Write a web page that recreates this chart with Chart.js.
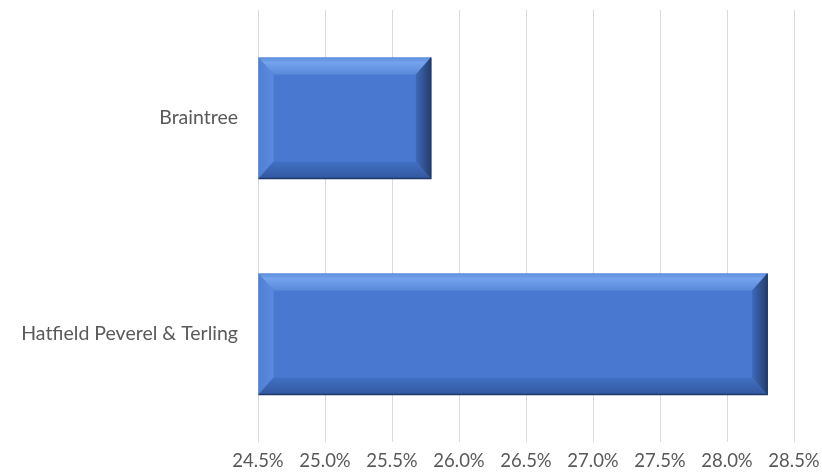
<!DOCTYPE html>
<html>
<head>
<meta charset="utf-8">
<script src="https://cdn.jsdelivr.net/npm/chart.js@4"></script>
<style>
  html, body { margin: 0; padding: 0; background: #fff; }
  #wrap { width: 822px; height: 473px; }
</style>
</head>
<body>
<div id="wrap"><canvas id="chart"></canvas></div>
<script>
// data
const categories = ["Braintree", "Hatfield Peverel & Terling"];
const shares = [25.79, 28.3];
const axisMin = 24.5;
const axisMax = 28.5;
const axisStep = 0.5;

// bevel look like the Excel shape effect
const bevelPlugin = {
  id: "bevel",
  afterDatasetsDraw(chart) {
    const ctx = chart.ctx;
    chart.getDatasetMeta(0).data.forEach(bar => {
      const l = Math.min(bar.base, bar.x), r = Math.max(bar.base, bar.x);
      const t = bar.y - bar.height / 2, b = bar.y + bar.height / 2;
      const bw = 15, bh = 17;
      ctx.save();
      ctx.fillStyle = "#4878cf";
      ctx.fillRect(l, t, r - l, b - t);
      // top
      let g = ctx.createLinearGradient(0, t, 0, t + bh);
      g.addColorStop(0, "#5e8fe0");
      g.addColorStop(0.3, "#74a2ec");
      g.addColorStop(1, "#5a89d9");
      ctx.fillStyle = g;
      ctx.beginPath();
      ctx.moveTo(l, t); ctx.lineTo(r, t); ctx.lineTo(r - bw, t + bh); ctx.lineTo(l + bw, t + bh);
      ctx.closePath(); ctx.fill();
      // left
      g = ctx.createLinearGradient(l, 0, l + bw, 0);
      g.addColorStop(0, "#4f80d4");
      g.addColorStop(1, "#5b8bdc");
      ctx.fillStyle = g;
      ctx.beginPath();
      ctx.moveTo(l, t); ctx.lineTo(l + bw, t + bh); ctx.lineTo(l + bw, b - bh); ctx.lineTo(l, b);
      ctx.closePath(); ctx.fill();
      // bottom
      g = ctx.createLinearGradient(0, b - bh, 0, b);
      g.addColorStop(0, "#4271c4");
      g.addColorStop(1, "#32589e");
      ctx.fillStyle = g;
      ctx.beginPath();
      ctx.moveTo(l, b); ctx.lineTo(l + bw, b - bh); ctx.lineTo(r - bw, b - bh); ctx.lineTo(r, b);
      ctx.closePath(); ctx.fill();
      // right
      g = ctx.createLinearGradient(r - bw, 0, r, 0);
      g.addColorStop(0, "#3d69b8");
      g.addColorStop(1, "#243f70");
      ctx.fillStyle = g;
      ctx.beginPath();
      ctx.moveTo(r, t); ctx.lineTo(r, b); ctx.lineTo(r - bw, b - bh); ctx.lineTo(r - bw, t + bh);
      ctx.closePath(); ctx.fill();
      // edge
      ctx.strokeStyle = "#1f3a6a";
      ctx.lineWidth = 1.5;
      ctx.beginPath();
      ctx.moveTo(r, t); ctx.lineTo(r, b); ctx.lineTo(l, b);
      ctx.stroke();
      ctx.restore();
    });
  }
};

new Chart(document.getElementById("chart"), {
  type: "bar",
  data: {
    labels: categories,
    datasets: [{
      data: shares,
      base: axisMin,
      backgroundColor: "rgba(0,0,0,0)",
      borderWidth: 0,
      barPercentage: 0.56,
      categoryPercentage: 1
    }]
  },
  options: {
    indexAxis: "y",
    responsive: true,
    maintainAspectRatio: false,
    animation: false,
    layout: { padding: { top: 10, right: 28, bottom: 0, left: 0 } },
    plugins: { legend: { display: false }, tooltip: { enabled: false } },
    scales: {
      x: {
        min: axisMin,
        max: axisMax,
        ticks: {
          stepSize: axisStep,
          color: "#595959",
          font: { family: "Lato", size: 18.5 },
          padding: 8,
          callback: v => v.toFixed(1) + "%"
        },
        grid: { color: "#d9d9d9", lineWidth: 1, drawTicks: false },
        border: { display: false },
        afterFit: s => { s.height = 31; s.paddingLeft = 0; s.paddingRight = 0; }
      },
      y: {
        ticks: {
          color: "#595959",
          font: { family: "Lato", size: 19.5 },
          padding: 20
        },
        grid: { display: false, drawTicks: false },
        border: { display: false },
        afterFit: s => { s.width = 258; s.paddingTop = 0; s.paddingBottom = 0; }
      }
    }
  },
  plugins: [bevelPlugin]
});
</script>
</body>
</html>
